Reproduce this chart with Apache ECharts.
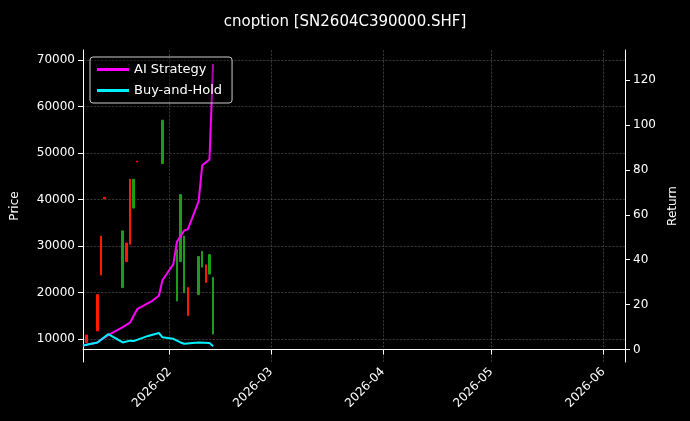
<!DOCTYPE html>
<html><head><meta charset="utf-8">
<script src="https://cdn.jsdelivr.net/npm/echarts@6/dist/echarts.min.js"></script>
<style>html,body{margin:0;background:#000}#c{width:690px;height:421px}</style>
</head><body><div id="c"></div>
<script>
const candleDates = ['2026-01-09','2026-01-12','2026-01-13','2026-01-14','2026-01-19','2026-01-20','2026-01-21','2026-01-22','2026-01-23','2026-01-30','2026-02-03','2026-02-04','2026-02-05','2026-02-06','2026-02-09','2026-02-10','2026-02-11','2026-02-12','2026-02-13'];
// [open, close, low, high]
const candleOHLC = [
 [9300,10900,9300,10900],[11800,19600,11800,19600],[23800,32200,23800,32200],[40200,40500,40200,40500],
 [33300,21100,21100,33300],[26700,30700,26700,30700],[30400,44400,30400,44400],[44400,38200,38200,44400],
 [48100,48300,48100,48300],[57100,47800,47800,57100],[29300,18200,18200,29300],[41100,26700,26700,41100],
 [32200,20000,20000,32200],[15100,21100,15100,21100],[27800,19600,19600,27800],[28900,25500,25500,28900],
 [22200,26000,22200,26000],[28200,24000,24000,28200],[23300,11100,11100,23300]
];
const aiDates = ['2026-01-08','2026-01-12','2026-01-15','2026-01-19','2026-01-21','2026-01-22','2026-01-23','2026-01-26','2026-01-27','2026-01-29','2026-01-30','2026-02-02','2026-02-03','2026-02-04','2026-02-05','2026-02-06','2026-02-09','2026-02-10','2026-02-12','2026-02-13'];
const aiValues = [1.8,3.2,6.5,10,12,15,18,20.7,21.5,24,31,38,48,50.5,53,53.5,66,82,84.6,127];
const bhDates = ['2026-01-08','2026-01-12','2026-01-15','2026-01-19','2026-01-21','2026-01-22','2026-01-26','2026-01-29','2026-01-30','2026-02-02','2026-02-04','2026-02-05','2026-02-09','2026-02-12','2026-02-13'];
const bhValues = [1.8,3.2,6.9,3.2,4,3.8,6.1,7.4,5.5,4.8,3.2,2.6,3.2,3,1.5];
const monthTicks = ['2026-02-01','2026-03-01','2026-04-01','2026-05-01','2026-06-01'];
const priceTicks = [10000,20000,30000,40000,50000,60000,70000];
const returnTicks = [0,20,40,60,80,100,120];

const ts = s=>new Date(s+'T00:00:00Z').getTime();
const candles = candleDates.map((d,i)=>[ts(d),...candleOHLC[i]]);
const monthTs = monthTicks.map(ts);
const txt = '#ffffff';
const grid = {show:true,lineStyle:{color:'#555',type:'dashed',width:0.6}};
const chart = echarts.init(document.getElementById('c'));
chart.setOption({
 backgroundColor:'#000',
 animation:false,
 title:{text:'cnoption [SN2604C390000.SHF]',left:'center',top:10,textStyle:{color:txt,fontSize:15,fontWeight:'normal',fontFamily:'DejaVu Sans'}},
 legend:{left:90,top:57,orient:'vertical',itemGap:8,backgroundColor:'rgba(0,0,0,0.3)',borderColor:'#ccc',borderWidth:1,borderRadius:3,padding:[6,10,6,7],
   textStyle:{color:txt,fontSize:13,fontFamily:'DejaVu Sans'},itemWidth:32,itemHeight:3,
   data:[{name:'AI Strategy',icon:'rect'},{name:'Buy-and-Hold',icon:'rect'}]},
 grid:{left:83,right:65,top:50,bottom:59,outerBoundsMode:'none',containLabel:false},
 xAxis:{type:'value',min:ts('2026-01-08'),max:ts('2026-06-07'),
   axisLine:{lineStyle:{color:'#fff'}},axisTick:{lineStyle:{color:'#fff'},customValues:monthTs},
   splitLine:grid,
   axisLabel:{color:txt,rotate:45,fontSize:12,fontFamily:'DejaVu Sans',customValues:monthTs,
     formatter:v=>{const d=new Date(v);return d.getUTCFullYear()+'-'+String(d.getUTCMonth()+1).padStart(2,'0');}}},
 yAxis:[
  {type:'value',name:'Price',nameLocation:'middle',nameGap:62,nameTextStyle:{color:txt,fontSize:12,fontFamily:'DejaVu Sans'},
   min:5100,max:72200,
   axisLabel:{color:txt,fontSize:12,fontFamily:'DejaVu Sans',customValues:priceTicks,formatter:v=>String(v)},
   axisTick:{show:true,lineStyle:{color:'#fff'},customValues:priceTicks},
   axisLine:{show:true,lineStyle:{color:'#fff'}},splitLine:grid},
  {type:'value',name:'Return',nameLocation:'middle',nameGap:42,nameTextStyle:{color:txt,fontSize:12,fontFamily:'DejaVu Sans'},
   min:-5.5,max:133.3,
   axisLabel:{color:txt,fontSize:12,fontFamily:'DejaVu Sans',customValues:returnTicks},
   axisTick:{show:true,lineStyle:{color:'#fff'},customValues:returnTicks},
   axisLine:{show:true,lineStyle:{color:'#fff'}},splitLine:{show:false}}
 ],
 series:[
  {type:'candlestick',yAxisIndex:0,data:candles,barWidth:2,
   itemStyle:{color:'#ff1a00',color0:'#1a9e1a',borderColor:'#ff1a00',borderColor0:'#1a9e1a',borderWidth:1}},
  {name:'AI Strategy',type:'line',yAxisIndex:1,data:aiDates.map((d,i)=>[ts(d),aiValues[i]]),showSymbol:false,
   lineStyle:{color:'#ff00ff',width:2},itemStyle:{color:'#ff00ff'}},
  {name:'Buy-and-Hold',type:'line',yAxisIndex:1,data:bhDates.map((d,i)=>[ts(d),bhValues[i]]),showSymbol:false,
   lineStyle:{color:'#00f0ff',width:2},itemStyle:{color:'#00f0ff'}}
 ]
});
</script></body></html>
